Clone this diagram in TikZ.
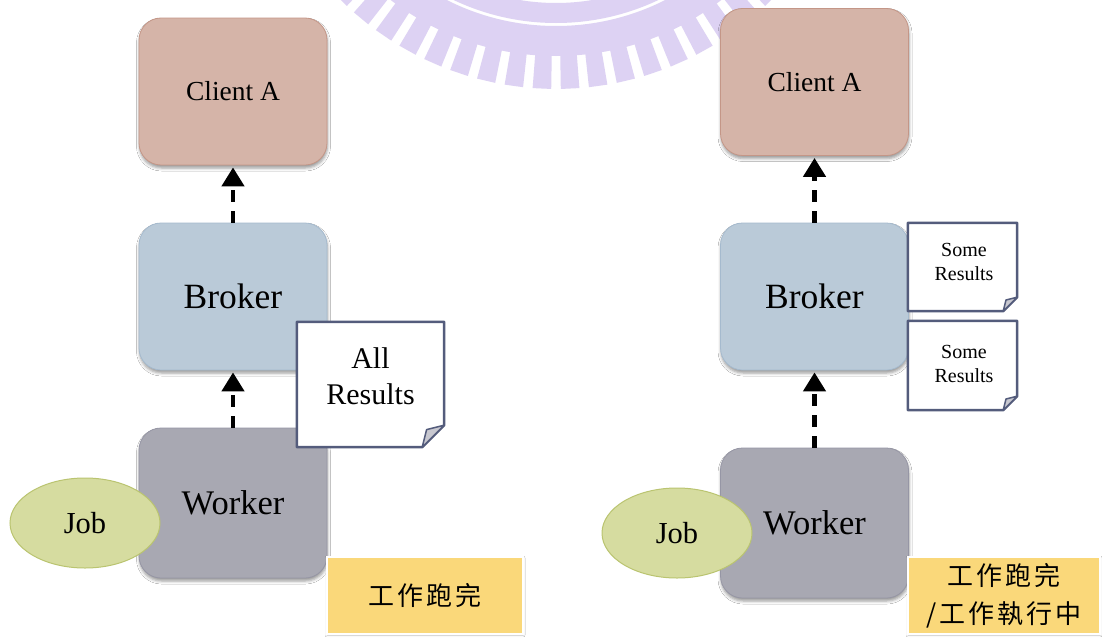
\documentclass[tikz,border=0pt]{standalone}
\usepackage{fontspec}
\setmainfont{Liberation Serif}
\newfontfamily\cjk[LetterSpace=12]{Noto Sans CJK TC}
\usetikzlibrary{arrows.meta,shapes.geometric,shadows.blur}

\definecolor{clientfill}{RGB}{213,180,168}
\definecolor{clientline}{RGB}{196,150,135}
\definecolor{brokerfill}{RGB}{186,202,216}
\definecolor{brokerline}{RGB}{165,186,206}
\definecolor{workerfill}{RGB}{168,168,178}
\definecolor{workerline}{RGB}{150,150,165}
\definecolor{jobfill}{RGB}{214,220,160}
\definecolor{jobline}{RGB}{186,196,112}
\definecolor{noteline}{RGB}{84,92,124}
\definecolor{foldfill}{RGB}{200,200,208}
\definecolor{tagfill}{RGB}{250,216,122}
\definecolor{crest}{RGB}{221,210,243}

\begin{document}
\begin{tikzpicture}[x=1pt,y=-1pt,
  softshadow/.style={blur shadow={shadow xshift=0.5pt,shadow yshift=-3pt,
      shadow blur radius=3pt,shadow opacity=40}},
  box/.style={rounded corners=22pt,minimum width=188pt,minimum height=147pt,
      line width=0.8pt,inner sep=0pt,softshadow},
  client/.style={box,fill=clientfill,draw=clientline,
      font=\fontsize{27.5}{32}\selectfont},
  broker/.style={box,fill=brokerfill,draw=brokerline,
      font=\fontsize{35.5}{40}\selectfont},
  worker/.style={box,fill=workerfill,draw=workerline,minimum height=150pt,
      font=\fontsize{34.5}{40}\selectfont},
  job/.style={ellipse,minimum width=150pt,minimum height=90pt,inner sep=0pt,
      fill=jobfill,draw=jobline,line width=1pt,
      font=\fontsize{30.5}{34}\selectfont},
  notebox/.style={inner sep=0pt},
  notetext/.style={align=center,inner sep=0pt},
  tag/.style={fill=tagfill,draw=white,line width=2pt,inner sep=0pt,
      minimum height=77pt,align=center,
      font=\cjk\fontsize{26}{38}\selectfont,
      blur shadow={shadow xshift=0pt,shadow yshift=-1pt,
      shadow blur radius=2pt,shadow opacity=25}},
  flow/.style={line width=4.5pt,dash pattern=on 12pt off 9pt,
      -{Triangle[length=19pt,width=22pt]},shorten >=2pt},
]
\useasboundingbox (0,0) rectangle (1102,637);
\fill[white] (0,0) rectangle (1102,637);

% faint crest at the top edge
\begin{scope}
  \clip (0,0) rectangle (1102,637);
  \begin{scope}[shift={(556,-216)}]
    \fill[crest,even odd rule] (0,0) circle (239pt) (0,0) circle (219pt);
    \fill[crest,even odd rule] (0,0) circle (272pt) (0,0) circle (242pt);
    \foreach \k in {0,...,9} {
      \pgfmathsetmacro\a{90+2.65+5.3*\k}
      \pgfmathsetmacro\b{90-2.65-5.3*\k}
      \fill[crest] (\a-1.75:270) -- (\a-1.75:305) -- (\a+1.75:305) -- (\a+1.75:270) -- cycle;
      \fill[crest] (\b-1.75:270) -- (\b-1.75:305) -- (\b+1.75:305) -- (\b+1.75:270) -- cycle;
    }
  \end{scope}
\end{scope}

% ---------- finished job ----------
\node[client] (clientL) at (233,91.5) {Client A};
\node[broker] (brokerL) at (233,296.5) {Broker};
\node[worker] (workerL) at (233,503) {Worker};
\node[job] (jobL) at (85,523) {Job};

\draw[flow] (workerL.north) -- (brokerL.south);
\draw[flow] (brokerL.north) -- (clientL.south);

\node[notebox,minimum width=147pt,minimum height=125pt] (noteL) at (370.5,384.5) {};
\node[notetext,font=\fontsize{30}{36}\selectfont] (noteLtext) at (370.5,376) {All\\Results};

\node[tag,minimum width=196pt] (tagL) at (425,595.5) {工作跑完};

% ---------- job still running ----------
\node[client] (clientR) at (814.5,82) {Client A};
\node[broker] (brokerR) at (814.5,296.5) {Broker};
\node[worker] (workerR) at (814.5,523) {Worker};
\node[job] (jobR) at (677,533) {Job};

\draw[flow] (workerR.north) -- (brokerR.south);
\draw[flow] (brokerR.north) -- (clientR.south);

\node[notebox,minimum width=109pt,minimum height=88pt] (noteR1) at (962.5,267) {};
\node[notebox,minimum width=109pt,minimum height=89pt] (noteR2) at (962.5,365.5) {};
\node[notetext,font=\fontsize{20}{24}\selectfont] (noteR1text) at (964,262) {Some\\Results};
\node[notetext,font=\fontsize{20}{24}\selectfont] (noteR2text) at (964,364) {Some\\Results};

\node[tag,minimum width=192pt] (tagR) at (1004,595.5) {工作跑完\\/工作執行中};

% result sheets with a folded lower right corner
\foreach \n/\f/\g in {noteL/22/17.6, noteR1/14/11.2, noteR2/14/11.2} {
  \draw[noteline,line width=2.5pt,line join=round,fill=white]
    (\n.north west) -- (\n.north east) -- ([yshift=\f pt]\n.south east)
    -- ([xshift=-\f pt]\n.south east) -- (\n.south west) -- cycle;
  \draw[noteline,line width=1.5pt,line join=round,fill=foldfill]
    ([yshift=\f pt]\n.south east) -- ([xshift=-\f pt]\n.south east)
    -- ([xshift=-\g pt,yshift=\g pt]\n.south east) -- cycle;
}
\node[notetext,font=\fontsize{30}{36}\selectfont] at (noteLtext) {All\\Results};
\node[notetext,font=\fontsize{20}{24}\selectfont] at (noteR1text) {Some\\Results};
\node[notetext,font=\fontsize{20}{24}\selectfont] at (noteR2text) {Some\\Results};
\end{tikzpicture}
\end{document}
